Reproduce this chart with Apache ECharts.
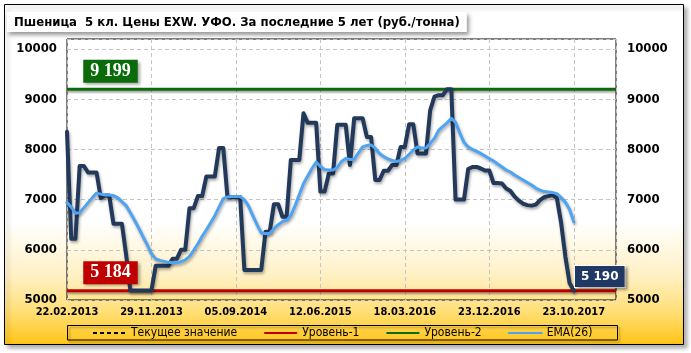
<!DOCTYPE html>
<html>
<head>
<meta charset="utf-8">
<title>Пшеница 5 кл. УФО</title>
<script src="https://cdn.jsdelivr.net/npm/echarts@6/dist/echarts.min.js"></script>
<style>
  html, body { margin: 0; padding: 0; background: #fff; }
  #chart { width: 691px; height: 353px; }
</style>
</head>
<body>
<div id="chart"></div>
<script>
// шаг данных - 2 недели, подпись каждые 20 точек
const tickLabels = ['22.02.2013', '29.11.2013', '05.09.2014', '12.06.2015', '18.03.2016', '23.12.2016', '23.10.2017'];
const tickEvery = 20;
const axisEnd = 130;

// цена, руб./тонна
const price = [
  8350, 6220, 6220, 7670, 7670, 7540, 7540, 7540, 7030, 7080,
  7080, 6520, 6520, 6520, 5900, 5190, 5190, 5190, 5190, 5190,
  5190, 5680, 5680, 5680, 5680, 5820, 5820, 6000, 6000, 6830,
  6830, 7070, 7070, 7460, 7460, 7460, 8030, 8030, 7050, 7050,
  7050, 7050, 5600, 5600, 5600, 5600, 5600, 6360, 6360, 6910,
  6910, 6660, 6660, 7790, 7790, 7790, 8720, 8530, 8530, 8530,
  7160, 7160, 7520, 7520, 8490, 8490, 8490, 7690, 8620, 8620,
  8620, 8250, 8250, 7390, 7390, 7575, 7575, 7690, 7690, 8050,
  8050, 8500, 8500, 7920, 7920, 7920, 8780, 9050, 9080, 9080,
  9200, 9200, 7000, 7000, 7000, 7610, 7650, 7650, 7620, 7580,
  7580, 7330, 7330, 7320, 7220, 7170, 7060, 6980, 6920, 6890,
  6880, 6900, 6990, 7050, 7070, 7090, 7030, 6540, 5870, 5340,
  5190
];

const ema26 = [
  6940, 6850, 6730, 6740, 6840, 6940, 7040, 7130, 7110, 7090,
  7090, 7080, 7040, 6960, 6880, 6740, 6590, 6430, 6260, 6100,
  5920, 5820, 5790, 5770, 5750, 5740, 5740, 5760, 5800, 5870,
  5990, 6120, 6270, 6400, 6540, 6680, 6850, 7020, 7050, 7060,
  7060, 7060, 7000, 6870, 6680, 6500, 6340, 6320, 6330, 6420,
  6500, 6560, 6590, 6680, 6880, 7100, 7320, 7470, 7620, 7750,
  7660, 7600, 7590, 7590, 7640, 7760, 7820, 7800, 7800, 7930,
  8050, 8080, 8090, 8020, 7920, 7860, 7810, 7780, 7760, 7780,
  7820, 7900, 7990, 8050, 8030, 8030, 8120, 8220, 8380, 8460,
  8530, 8620, 8540, 8330, 8140, 8050, 8000, 7960, 7920, 7870,
  7820, 7770, 7710, 7650, 7590, 7550, 7490, 7440, 7390, 7340,
  7290, 7230, 7190, 7160, 7150, 7140, 7120, 7040, 6950, 6810,
  6560
];

const level1 = 5184;
const level2 = 9199;
const currentValue = 5190;

const fontCond = "'DejaVu Sans Condensed', 'DejaVu Sans'";
const shadow = { shadowColor: 'rgba(0,0,0,0.35)', shadowBlur: 3, shadowOffsetX: 1, shadowOffsetY: 2 };

function levelLine(name, value, color, lbl) {
  return {
    name: name,
    type: 'line',
    data: [[0, value], [axisEnd, value]],
    symbol: 'none',
    z: 2,
    lineStyle: Object.assign({ color: color, width: 3 }, shadow, { shadowBlur: 2, shadowOffsetX: 0 }),
    itemStyle: { color: color },
    markPoint: {
      symbolSize: 0,
      data: [{ coord: [10.3, value] }],
      label: {
        show: true, position: 'inside', offset: [0, -18],
        formatter: lbl,
        color: '#fff', fontFamily: "'Liberation Serif'", fontWeight: 'bold', fontSize: 18,
        backgroundColor: color, padding: [3, 7, 2, 7],
        shadowColor: 'rgba(0,0,0,0.35)', shadowBlur: 3, shadowOffsetX: 2, shadowOffsetY: 2
      }
    }
  };
}

const yLabel = function (v) { return v % 1000 === 0 ? String(v) : ''; };

const myChart = echarts.init(document.getElementById('chart'));
myChart.setOption({
  animation: false,
  title: {
    text: 'Пшеница  5 кл. Цены EXW. УФО. За последние 5 лет (руб./тонна)',
    left: 7, top: 12,
    padding: [4, 7, 3, 7],
    backgroundColor: '#fff',
    shadowColor: 'rgba(0,0,0,0.4)', shadowBlur: 4, shadowOffsetX: 2, shadowOffsetY: 3,
    textStyle: { fontFamily: fontCond, fontWeight: 'bold', fontSize: 13, color: '#000' }
  },
  graphic: [
    {
      type: 'rect', z: -10,
      shape: { x: 4.5, y: 4.5, width: 679, height: 340 },
      style: {
        fill: {
          type: 'linear', x: 0, y: 0, x2: 0, y2: 1,
          colorStops: [
            { offset: 0, color: '#ffffff' },
            { offset: 0.64, color: '#ffffff' },
            { offset: 0.8, color: '#fff0c2' },
            { offset: 0.9, color: '#ffdf78' },
            { offset: 1, color: '#ffc414' }
          ]
        },
        stroke: '#000', lineWidth: 1,
        shadowColor: 'rgba(0,0,0,0.3)', shadowBlur: 4, shadowOffsetX: 3, shadowOffsetY: 3
      }
    },
    {
      type: 'rect', z: 10,
      shape: { x: 67.5, y: 325.5, width: 550, height: 14.5 },
      style: {
        fill: null, stroke: '#000', lineWidth: 1,
        shadowColor: 'rgba(0,0,0,0.3)', shadowBlur: 2, shadowOffsetX: 2, shadowOffsetY: 2
      }
    }
  ],
  legend: {
    left: 92, top: 327,
    padding: 0,
    itemGap: 26, itemWidth: 33, itemHeight: 12,
    itemStyle: { opacity: 0 },
    data: ['Текущее значение', 'Уровень-1', 'Уровень-2', 'EMA(26)'],
    textStyle: { fontFamily: fontCond, fontSize: 12, color: '#000' }
  },
  grid: {
    left: 67, right: 75, top: 39, bottom: 53,
    show: true, borderColor: '#000', borderWidth: 1, backgroundColor: 'transparent'
  },
  xAxis: {
    type: 'value', min: 0, max: axisEnd, interval: tickEvery,
    axisLine: { show: false }, axisTick: { show: false },
    axisLabel: {
      margin: 7, color: '#000', fontFamily: fontCond, fontWeight: 'bold', fontSize: 11,
      formatter: function (v) { return tickLabels[v / tickEvery] || ''; }
    },
    splitLine: { show: true, lineStyle: { color: '#c4c4c4', type: [4, 3] } }
  },
  yAxis: [
    {
      type: 'value', min: 5000, max: 10200, interval: 1000,
      axisLine: { show: false }, axisTick: { show: false },
      axisLabel: { margin: 10, color: '#000', fontFamily: fontCond, fontWeight: 'bold', fontSize: 13, formatter: yLabel },
      splitLine: { show: true, lineStyle: { color: '#c4c4c4', type: [4, 3] } }
    },
    {
      type: 'value', position: 'right', min: 5000, max: 10200, interval: 1000,
      axisLine: { show: false }, axisTick: { show: false },
      axisLabel: { margin: 11, color: '#000', fontFamily: fontCond, fontWeight: 'bold', fontSize: 13, formatter: yLabel },
      splitLine: { show: false }
    }
  ],
  series: [
    {
      // только для легенды
      name: 'Текущее значение', type: 'line', data: [], symbol: 'none',
      lineStyle: { color: '#000', width: 1.2, type: [4, 3] }, itemStyle: { color: '#000' }
    },
    levelLine('Уровень-1', level1, '#c00000', '5 184'),
    levelLine('Уровень-2', level2, '#0b6b0b', '9 199'),
    {
      name: 'Цена', type: 'line', z: 3,
      data: price.map(function (v, i) { return [i, v]; }),
      symbol: 'none',
      lineStyle: Object.assign({ color: '#22395c', width: 4, join: 'round', cap: 'round' }, shadow),
      markPoint: {
        symbolSize: 0,
        data: [{ coord: [price.length - 1, currentValue] }],
        label: {
          show: true, position: 'inside', offset: [26, -14],
          formatter: '5 190',
          color: '#fff', fontFamily: "'DejaVu Sans'", fontWeight: 'bold', fontSize: 12,
          backgroundColor: '#1f3864', borderColor: '#fff', borderWidth: 1, padding: [5, 6, 4, 6],
          shadowColor: 'rgba(0,0,0,0.35)', shadowBlur: 3, shadowOffsetX: 2, shadowOffsetY: 2
        }
      }
    },
    {
      name: 'EMA(26)', type: 'line', z: 4,
      data: ema26.map(function (v, i) { return [i, v]; }),
      symbol: 'none',
      lineStyle: Object.assign({ color: '#4ea4f2', width: 3, join: 'round', cap: 'round' }, shadow)
    }
  ]
});
</script>
</body>
</html>
